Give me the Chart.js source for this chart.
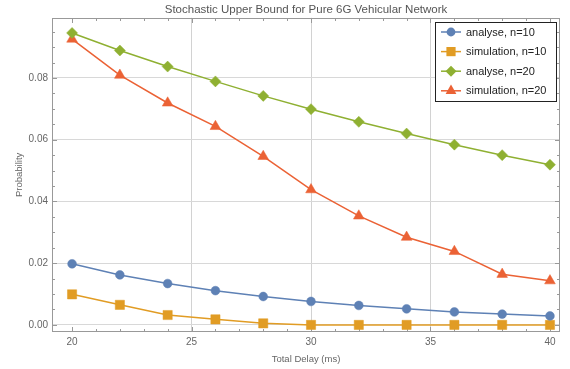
<!DOCTYPE html>
<html>
<head>
<meta charset="utf-8">
<script src="https://cdn.jsdelivr.net/npm/chart.js@4.4.1/dist/chart.umd.min.js"></script>
<style>
  html, body { margin: 0; padding: 0; background: #fff; }
  canvas { display: block; }
</style>
</head>
<body>
<canvas id="chart" width="570" height="369"></canvas>
<script>
// Data
const delays = [20, 22, 24, 26, 28, 30, 32, 34, 36, 38, 40];
const analyse10 = [0.0198, 0.0162, 0.0134, 0.0111, 0.0092, 0.0076, 0.0063, 0.0052, 0.0042, 0.0035, 0.0029];
const simulation10 = [0.0099, 0.0065, 0.0032, 0.0018, 0.0005, 0, 0, 0, 0, 0, 0];
const analyse20 = [0.0946, 0.0889, 0.0837, 0.0789, 0.0742, 0.0699, 0.0658, 0.0620, 0.0584, 0.0550, 0.0519];
const simulation20 = [0.0926, 0.0809, 0.0719, 0.0643, 0.0546, 0.0438, 0.0353, 0.0284, 0.0238, 0.0164, 0.0143];
const seriesLabels = ['analyse, n=10', 'simulation, n=10', 'analyse, n=20', 'simulation, n=20'];
const xTicks = [20, 25, 30, 35, 40];
const yTicks = [0, 0.02, 0.04, 0.06, 0.08];

const FONT = '"Liberation Sans", Arial, sans-serif';
const colors = ['#5e81b5', '#e19c24', '#8fb032', '#eb6235'];
const markers = ['circle', 'rect', 'rectRot', 'triangle'];
const radii = [4.4, 6.5, 5.5, 6.2];

const allSeries = [analyse10, simulation10, analyse20, simulation20];
const datasets = allSeries.map((arr, i) => ({
    label: seriesLabels[i],
    data: delays.map((d, j) => ({ x: d, y: arr[j] })),
    borderColor: colors[i],
    backgroundColor: colors[i],
    borderWidth: 1.5,
    pointStyle: markers[i],
    pointRadius: radii[i],
    pointBorderWidth: 0.5,
    pointHoverRadius: radii[i],
    tension: 0
}));

// small marker shapes for the legend
function drawMarker(ctx, style, x, y, r, color) {
    ctx.fillStyle = color;
    ctx.beginPath();
    if (style === 'circle') {
        ctx.arc(x, y, r, 0, Math.PI * 2);
    } else if (style === 'rect') {
        const s = r * Math.SQRT1_2;
        ctx.rect(x - s, y - s, 2 * s, 2 * s);
    } else if (style === 'rectRot') {
        ctx.moveTo(x, y - r); ctx.lineTo(x + r, y); ctx.lineTo(x, y + r); ctx.lineTo(x - r, y);
        ctx.closePath();
    } else {
        ctx.moveTo(x, y - r);
        ctx.lineTo(x + r * 0.866, y + r / 2);
        ctx.lineTo(x - r * 0.866, y + r / 2);
        ctx.closePath();
    }
    ctx.fill();
}

// Frame with inward ticks on all four sides
const framePlugin = {
    id: 'frame',
    beforeDatasetsDraw(chart) {
        const { ctx, chartArea: a, scales: { x, y } } = chart;
        const L = Math.round(a.left) + 0.5, R = Math.round(a.right) - 0.5;
        const T = Math.round(a.top) + 0.5, B = Math.round(a.bottom) - 0.5;
        ctx.save();
        ctx.strokeStyle = '#999';
        ctx.lineWidth = 1;
        ctx.strokeRect(L, T, R - L, B - T);
        ctx.beginPath();
        for (let v = 20; v <= 40; v++) {
            const px = Math.round(x.getPixelForValue(v)) + 0.5;
            const len = v % 5 === 0 ? 4.5 : 2.5;
            ctx.moveTo(px, B); ctx.lineTo(px, B - len);
            ctx.moveTo(px, T); ctx.lineTo(px, T + len);
        }
        for (let k = 0; k <= 19; k++) {
            const py = Math.round(y.getPixelForValue(k * 0.005)) + 0.5;
            const len = k % 4 === 0 ? 4.5 : 2.5;
            ctx.moveTo(L, py); ctx.lineTo(L + len, py);
            ctx.moveTo(R, py); ctx.lineTo(R - len, py);
        }
        ctx.stroke();
        ctx.restore();
    }
};

// Boxed legend in the top right corner
const legendPlugin = {
    id: 'boxLegend',
    afterDatasetsDraw(chart) {
        const ctx = chart.ctx;
        const x0 = 435.5, y0 = 22.5, w = 121, h = 79;
        ctx.save();
        ctx.fillStyle = '#fff';
        ctx.fillRect(x0, y0, w, h);
        ctx.strokeStyle = '#222';
        ctx.lineWidth = 1;
        ctx.strokeRect(x0, y0, w, h);
        ctx.font = '11px ' + FONT;
        ctx.textBaseline = 'middle';
        chart.data.datasets.forEach((ds, i) => {
            const yy = 32 + i * 19.6;
            ctx.strokeStyle = ds.borderColor;
            ctx.lineWidth = 1.5;
            ctx.beginPath();
            ctx.moveTo(441, yy); ctx.lineTo(461, yy);
            ctx.stroke();
            drawMarker(ctx, ds.pointStyle, 451, yy, ds.pointRadius, ds.backgroundColor);
            ctx.fillStyle = '#222';
            ctx.fillText(ds.label, 466, yy + 0.5);
        });
        ctx.restore();
    }
};

new Chart(document.getElementById('chart'), {
    type: 'line',
    data: { datasets: datasets },
    options: {
        responsive: false,
        animation: false,
        devicePixelRatio: 1,
        layout: { padding: { left: 0, right: 10, top: 0, bottom: 0 } },
        plugins: {
            legend: { display: false },
            tooltip: { enabled: false },
            title: {
                display: true,
                fullSize: false,
                text: 'Stochastic Upper Bound for Pure 6G Vehicular Network',
                color: '#555',
                font: { family: FONT, size: 11.5, weight: 'normal', lineHeight: 1.2 },
                padding: { top: 3, bottom: 1 }
            }
        },
        scales: {
            x: {
                type: 'linear',
                min: 19.16,
                max: 40.42,
                border: { display: false },
                grid: {
                    drawTicks: false,
                    color: c => (c.tick && (c.tick.value === 20 || c.tick.value === 40)) ? 'rgba(0,0,0,0)' : '#d2d2d2',
                    lineWidth: 1
                },
                afterBuildTicks: s => { s.ticks = xTicks.map(v => ({ value: v })); },
                afterFit: s => { s.height = 37; },
                ticks: {
                    autoSkip: false,
                    maxRotation: 0,
                    padding: 4,
                    color: '#666',
                    font: { family: FONT, size: 10 },
                    callback: v => String(v)
                },
                title: {
                    display: true,
                    text: 'Total Delay (ms)',
                    color: '#666',
                    font: { family: FONT, size: 9.5 },
                    padding: { top: 0, bottom: 4 }
                }
            },
            y: {
                type: 'linear',
                min: -0.0023,
                max: 0.0995,
                border: { display: false },
                grid: { drawTicks: false, color: '#d8d8d8', lineWidth: 1 },
                afterBuildTicks: s => { s.ticks = yTicks.map(v => ({ value: v })); },
                afterFit: s => { s.width = 52; },
                ticks: {
                    autoSkip: false,
                    padding: 4,
                    color: '#666',
                    font: { family: FONT, size: 10 },
                    callback: v => v.toFixed(2)
                },
                title: {
                    display: true,
                    text: 'Probability',
                    color: '#666',
                    font: { family: FONT, size: 9.5 },
                    padding: { top: 14, bottom: 0 }
                }
            }
        }
    },
    plugins: [framePlugin, legendPlugin]
});
</script>
</body>
</html>
